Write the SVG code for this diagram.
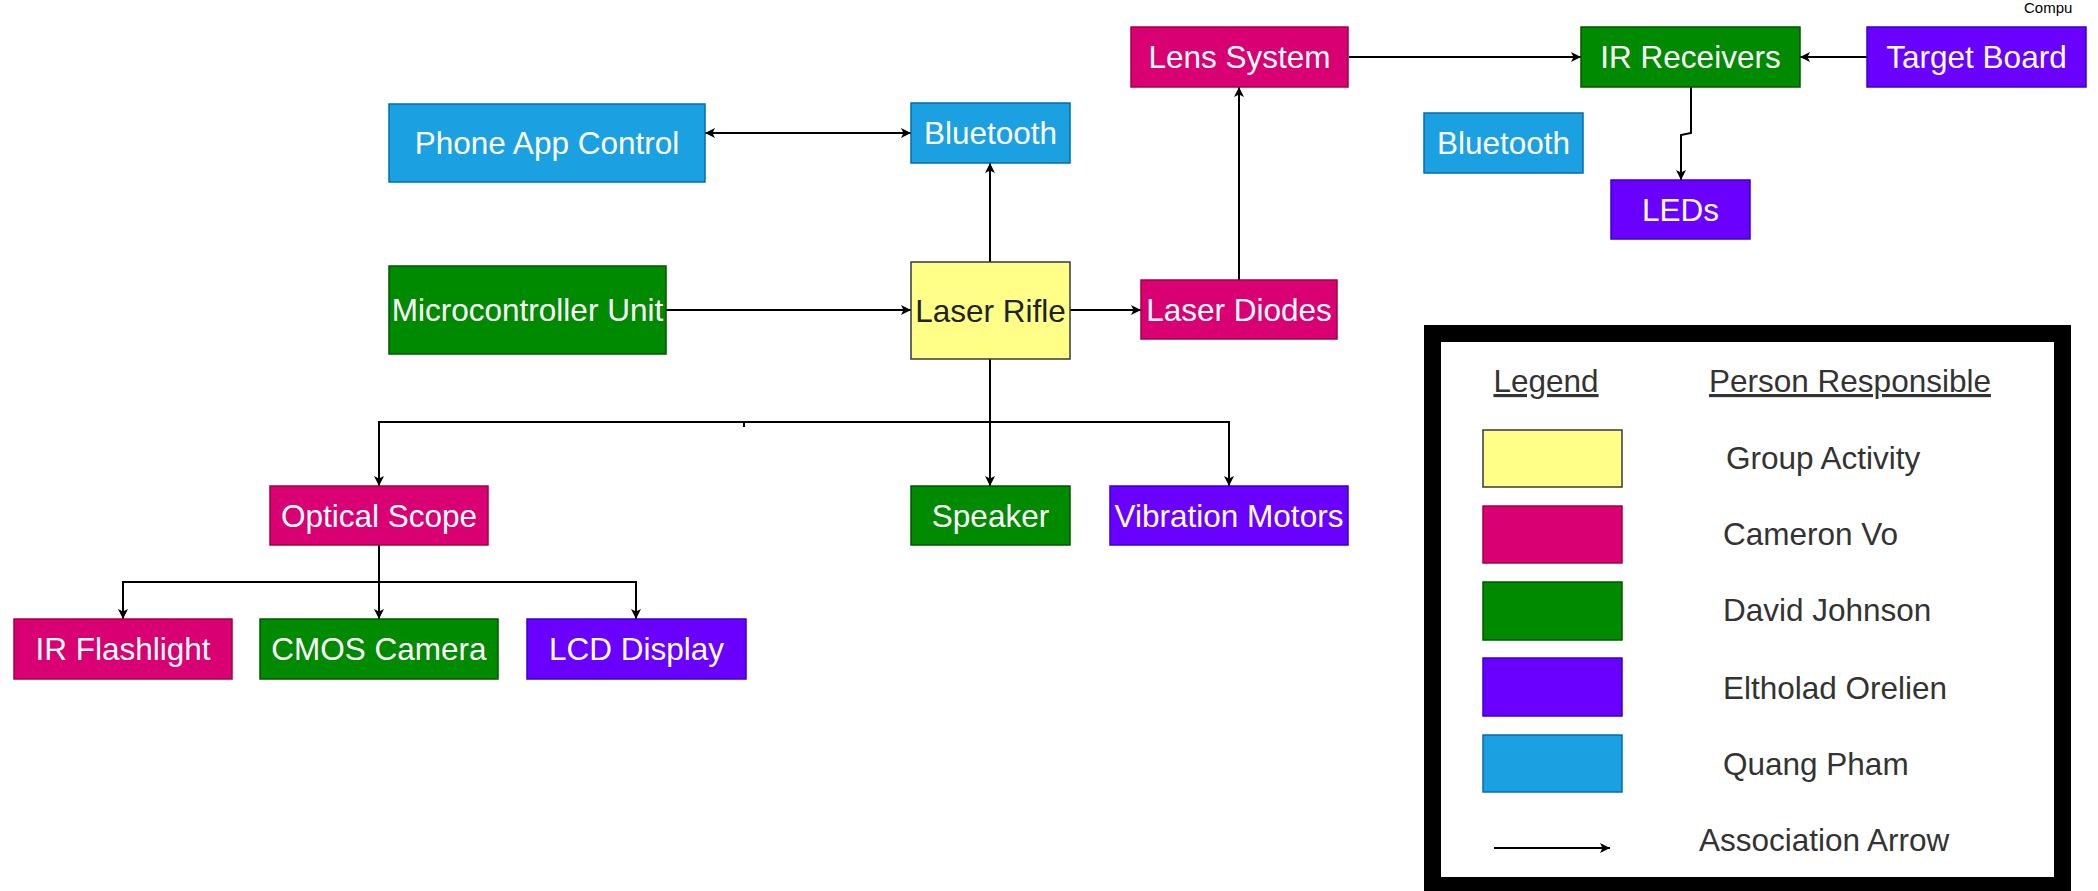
<svg xmlns="http://www.w3.org/2000/svg" width="2098" height="891" viewBox="0 0 2098 891">
<defs>
<marker id="arr" viewBox="0 0 10 10" refX="10" refY="5" markerWidth="10" markerHeight="10" markerUnits="userSpaceOnUse" orient="auto-start-reverse">
<path d="M0,0 L10,5 L0,10 L2.5,5 Z" fill="#000"/>
</marker>
<style>
.n text{font-family:"Liberation Sans",Arial,sans-serif;font-size:31.5px;fill:#fff;text-anchor:middle}
.pink rect{fill:#d80073;stroke:#a50040;stroke-width:1.5}
.green rect{fill:#008a00;stroke:#005700;stroke-width:1.5}
.purple rect{fill:#6a00ff;stroke:#3700cc;stroke-width:1.5}
.blue rect{fill:#1ba1e2;stroke:#006eaf;stroke-width:1.5}
.yellow rect{fill:#ffff88;stroke:#36393d;stroke-width:1.5}
.yellow text{fill:#222}
.c path{fill:none;stroke:#000;stroke-width:2}
.lg text{font-family:"Liberation Sans",Arial,sans-serif;font-size:31.5px;fill:#333}
</style>
</defs>
<rect width="2098" height="891" fill="#fff"/>
<text x="2024" y="13" font-family="Liberation Sans,Arial,sans-serif" font-size="15" fill="#000">Compu</text>

<g class="c" id="connectors">
<path d="M705,133 L911,133" marker-start="url(#arr)" marker-end="url(#arr)"/>
<path d="M990,262 L990,163" marker-end="url(#arr)"/>
<path d="M666,310 L911,310" marker-end="url(#arr)"/>
<path d="M1070,310 L1141,310" marker-end="url(#arr)"/>
<path d="M1239,280 L1239,87" marker-end="url(#arr)"/>
<path d="M1349,57 L1581,57" marker-end="url(#arr)"/>
<path d="M1867,57 L1800,57" marker-end="url(#arr)"/>
<path d="M1691,87 L1691,133 L1681,135 L1681,180" marker-end="url(#arr)"/>
<path d="M990,359 L990,486" marker-end="url(#arr)"/>
<path d="M990,422 L379,422 L379,486" marker-end="url(#arr)"/>
<path d="M744,427 L744,422 L1229,422 L1229,486" marker-end="url(#arr)"/>
<path d="M379,545 L379,619" marker-end="url(#arr)"/>
<path d="M379,582 L123,582 L123,619" marker-end="url(#arr)"/>
<path d="M379,582 L636,582 L636,619" marker-end="url(#arr)"/>
</g>

<g id="phone-app" class="n blue"><rect x="389" y="104" width="316" height="78"/><text x="547" y="154">Phone App Control</text></g>
<g id="bluetooth-1" class="n blue"><rect x="911" y="103" width="159" height="60"/><text x="990.5" y="144">Bluetooth</text></g>
<g id="mcu" class="n green"><rect x="389" y="266" width="277" height="88"/><text x="527.5" y="321">Microcontroller Unit</text></g>
<g id="laser-rifle" class="n yellow"><rect x="911" y="262" width="159" height="97"/><text x="990.5" y="322">Laser Rifle</text></g>
<g id="laser-diodes" class="n pink"><rect x="1141" y="280" width="196" height="59"/><text x="1239" y="321">Laser Diodes</text></g>
<g id="lens-system" class="n pink"><rect x="1131" y="27" width="217" height="60"/><text x="1239.5" y="68">Lens System</text></g>
<g id="ir-receivers" class="n green"><rect x="1581" y="27" width="219" height="60"/><text x="1690.5" y="68">IR Receivers</text></g>
<g id="target-board" class="n purple"><rect x="1867" y="27" width="219" height="60"/><text x="1976.5" y="68">Target Board</text></g>
<g id="bluetooth-2" class="n blue"><rect x="1424" y="113" width="159" height="60"/><text x="1503.5" y="154">Bluetooth</text></g>
<g id="leds" class="n purple"><rect x="1611" y="180" width="139" height="59"/><text x="1680.5" y="221">LEDs</text></g>
<g id="optical-scope" class="n pink"><rect x="270" y="486" width="218" height="59"/><text x="379" y="527">Optical Scope</text></g>
<g id="speaker" class="n green"><rect x="911" y="486" width="159" height="59"/><text x="990.5" y="527">Speaker</text></g>
<g id="vibration-motors" class="n purple"><rect x="1110" y="486" width="238" height="59"/><text x="1229" y="527">Vibration Motors</text></g>
<g id="ir-flashlight" class="n pink"><rect x="14" y="619" width="218" height="60"/><text x="123" y="660">IR Flashlight</text></g>
<g id="cmos-camera" class="n green"><rect x="260" y="619" width="238" height="60"/><text x="379" y="660">CMOS Camera</text></g>
<g id="lcd-display" class="n purple"><rect x="527" y="619" width="219" height="60"/><text x="636.5" y="660">LCD Display</text></g>

<g id="legend" class="lg">
<rect x="1432.5" y="333.5" width="630" height="552" fill="#fff" stroke="#000" stroke-width="17"/>
<text x="1546" y="392" text-anchor="middle" text-decoration="underline">Legend</text>
<text x="1850" y="392" text-anchor="middle" text-decoration="underline">Person Responsible</text>
<g class="yellow"><rect x="1483" y="430" width="139" height="57"/></g>
<g class="pink"><rect x="1483" y="506" width="139" height="57"/></g>
<g class="green"><rect x="1483" y="582" width="139" height="58"/></g>
<g class="purple"><rect x="1483" y="658" width="139" height="58"/></g>
<g class="blue"><rect x="1483" y="735" width="139" height="57"/></g>
<text x="1726" y="469">Group Activity</text>
<text x="1723" y="545">Cameron Vo</text>
<text x="1723" y="621">David Johnson</text>
<text x="1723" y="699">Eltholad Orelien</text>
<text x="1723" y="775">Quang Pham</text>
<text x="1699" y="851">Association Arrow</text>
<path d="M1494,848 L1610,848" stroke="#000" stroke-width="2" fill="none" marker-end="url(#arr)"/>
</g>
</svg>
